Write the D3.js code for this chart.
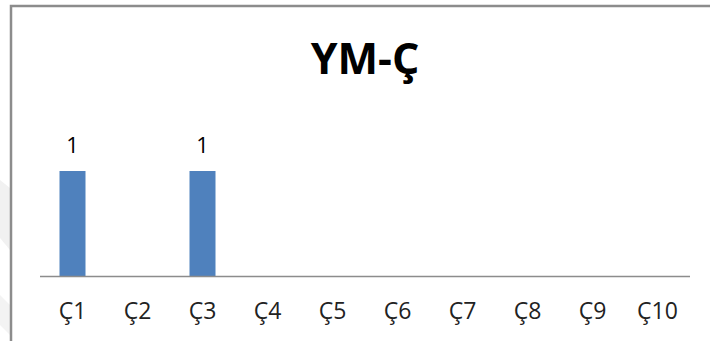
<!DOCTYPE html>
<html>
<head>
<meta charset="utf-8">
<script src="https://cdn.jsdelivr.net/npm/d3@7"></script>
<style>
  html, body { margin: 0; padding: 0; background: #fff; }
  svg { display: block; }
</style>
</head>
<body>
<svg id="chart_svg" width="710" height="341"></svg>
<script>
// chart data
const categories = ["Ç1", "Ç2", "Ç3", "Ç4", "Ç5", "Ç6", "Ç7", "Ç8", "Ç9", "Ç10"];
const values = [1, 0, 1, 0, 0, 0, 0, 0, 0, 0];
const title = "YM-Ç";

const svg = d3.select("#chart_svg");
const width = 710, height = 341;

const margin = { top: 150, bottom: 65, left: 40, right: 20 };
const fontFamily = "'Open Sans', 'Noto Sans', sans-serif";

// faint watermark shapes on the far left
svg.append("path")
  .attr("d", "M0,180 L10,188 L10,250 L0,238 Z")
  .attr("fill", "#f1f1f1");
svg.append("path")
  .attr("d", "M0,295 L10,305 L10,335 L0,325 Z")
  .attr("fill", "#f3f3f3");

// chart frame (only top and left edges are in view)
svg.append("path")
  .attr("d", "M11,341 L11,6 L710,6")
  .attr("fill", "none")
  .attr("stroke", "#8c8c8c")
  .attr("stroke-width", 2.5);

const xScale = d3.scaleBand()
  .domain(categories)
  .range([margin.left, width - margin.right])
  .paddingInner(0.6)
  .paddingOuter(0.3);

const yScale = d3.scaleLinear()
  .domain([0, 1.2])
  .range([height - margin.bottom, margin.top]);

// title
svg.append("text")
  .attr("x", 365)
  .attr("y", 74)
  .attr("text-anchor", "middle")
  .attr("font-family", fontFamily)
  .attr("font-weight", "bold")
  .attr("font-size", 43)
  .attr("fill", "#000")
  .text(title);

// bars
const data = categories.map((c, i) => ({ cat: c, val: values[i] }));

svg.append("g")
  .selectAll("rect")
  .data(data.filter(d => d.val > 0))
  .enter()
  .append("rect")
  .attr("x", d => xScale(d.cat))
  .attr("y", d => yScale(d.val))
  .attr("width", xScale.bandwidth())
  .attr("height", d => yScale(0) - yScale(d.val))
  .attr("fill", "#4f81bd");

// value labels
svg.append("g")
  .selectAll("text")
  .data(data.filter(d => d.val > 0))
  .enter()
  .append("text")
  .attr("x", d => xScale(d.cat) + xScale.bandwidth() / 2)
  .attr("y", d => yScale(d.val) - 18)
  .attr("text-anchor", "middle")
  .attr("font-family", fontFamily)
  .attr("font-size", 22)
  .attr("fill", "#000")
  .text(d => d.val);

// x axis
const x_axis = d3.axisBottom(xScale).tickSize(0).tickPadding(27);
const gx = svg.append("g")
  .attr("transform", "translate(0," + yScale(0) + ")")
  .call(x_axis);
gx.select(".domain")
  .attr("d", "M" + margin.left + ",0.5H" + (width - margin.right))
  .attr("stroke", "#8c8c8c")
  .attr("stroke-width", 1.5);
gx.selectAll(".tick text")
  .attr("font-family", fontFamily)
  .attr("font-size", 23)
  .attr("fill", "#222");
</script>
</body>
</html>
